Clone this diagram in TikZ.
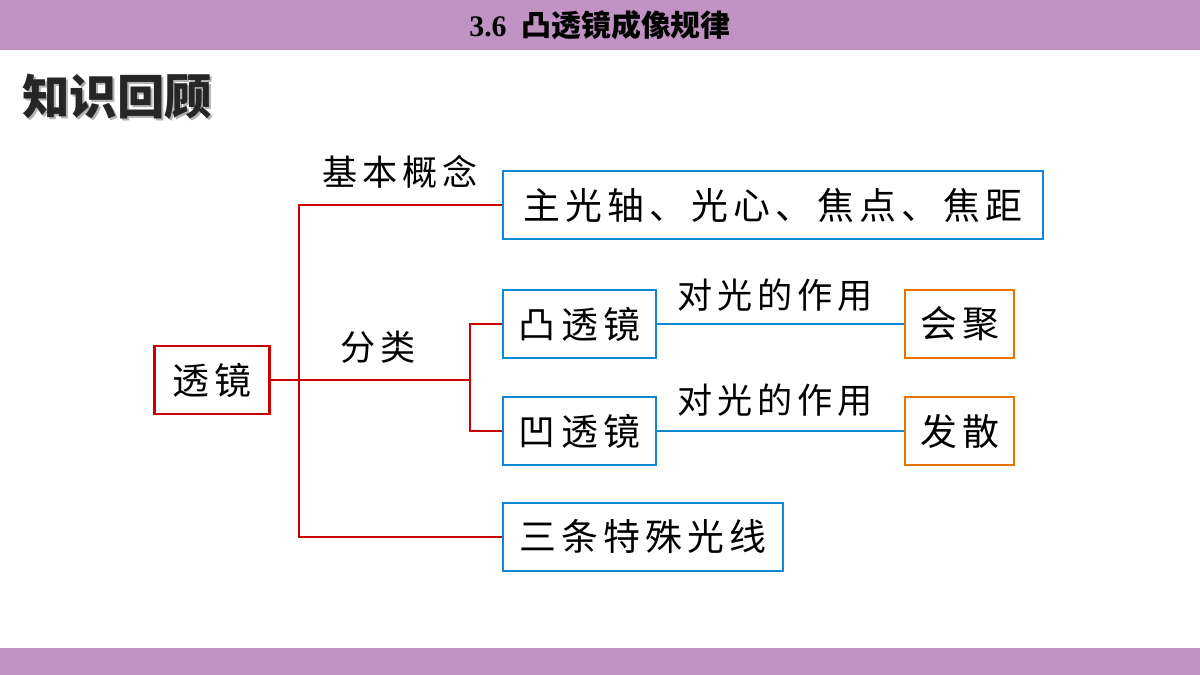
\documentclass[tikz,border=0pt]{standalone}
\usepackage{fontspec}
\setmainfont{Liberation Serif}
\newfontfamily\cjk{Noto Sans CJK SC}
\newfontfamily\cjksp[LetterSpace=14]{Noto Sans CJK SC}
\begin{document}
\begin{tikzpicture}[x=0.02cm,y=-0.02cm,
  box/.style={draw,line width=1.2pt,fill=white,minimum height=1.36cm,inner sep=0pt,font=\cjksp\fontsize{21}{21}\selectfont},
  lbl/.style={font=\cjksp\fontsize{20}{20}\selectfont,inner sep=0pt},
  rl/.style={draw=red!80!black,line width=1pt},
  bl/.style={draw=cyan!70!blue,line width=1pt}]
\definecolor{bar}{HTML}{C193C3}
\useasboundingbox (0,0) rectangle (1200,675);
\fill[bar] (0,0) rectangle (1200,50);
\fill[bar] (0,648) rectangle (1200,675);
\node (title) at (600,25) {\bfseries\fontsize{17}{17}\selectfont 3.6\ \ {\cjk 凸透镜成像规律}};
\node[anchor=west,text=gray!60,inner sep=0pt] (s) at (24,99) {\cjk\bfseries\fontsize{27}{27}\selectfont 知识回顾};
\node[anchor=west,text=black!85,inner sep=0pt] (h) at (22,97) {\cjk\bfseries\fontsize{27}{27}\selectfont 知识回顾};
\node[box,draw=red!80!black,minimum width=2.3cm] (lens) at (212,380) {透镜\hspace{-3pt}};
\node[box,draw=cyan!70!blue,minimum width=10.8cm] (a) at (773,205) {主光轴、光心、焦点、焦距\hspace{-3pt}};
\node[box,draw=cyan!70!blue,minimum width=3.06cm] (b) at (579.5,324) {凸透镜\hspace{-3pt}};
\node[box,draw=cyan!70!blue,minimum width=3.06cm] (c) at (579.5,431) {凹透镜\hspace{-3pt}};
\node[box,draw=orange!90!black,minimum width=2.18cm] (d) at (959.5,324) {会聚\hspace{-3pt}};
\node[box,draw=orange!90!black,minimum width=2.18cm] (e) at (959.5,431) {发散\hspace{-3pt}};
\node[box,draw=cyan!70!blue,minimum width=5.6cm] (f) at (643,537) {三条特殊光线\hspace{-3pt}};
\coordinate (j) at (299,380);
\coordinate (k) at (470,380);
\draw[rl] (lens.east) -- (j);
\draw[rl] (a.west) -| (j) |- (f.west);
\draw[rl] (j) -- (k);
\draw[rl] (b.west) -| (k) |- (c.west);
\draw[bl] (b.east) -- (d.west);
\draw[bl] (c.east) -- (e.west);
\node[lbl] (l1) at (400,172) {基本概念\hspace{-3pt}};
\node[lbl] (l2) at (378,347) {分类\hspace{-3pt}};
\node[lbl] (l3) at (775,295) {对光的作用\hspace{-3pt}};
\node[lbl] (l4) at (775,400) {对光的作用\hspace{-3pt}};
\end{tikzpicture}
\end{document}
